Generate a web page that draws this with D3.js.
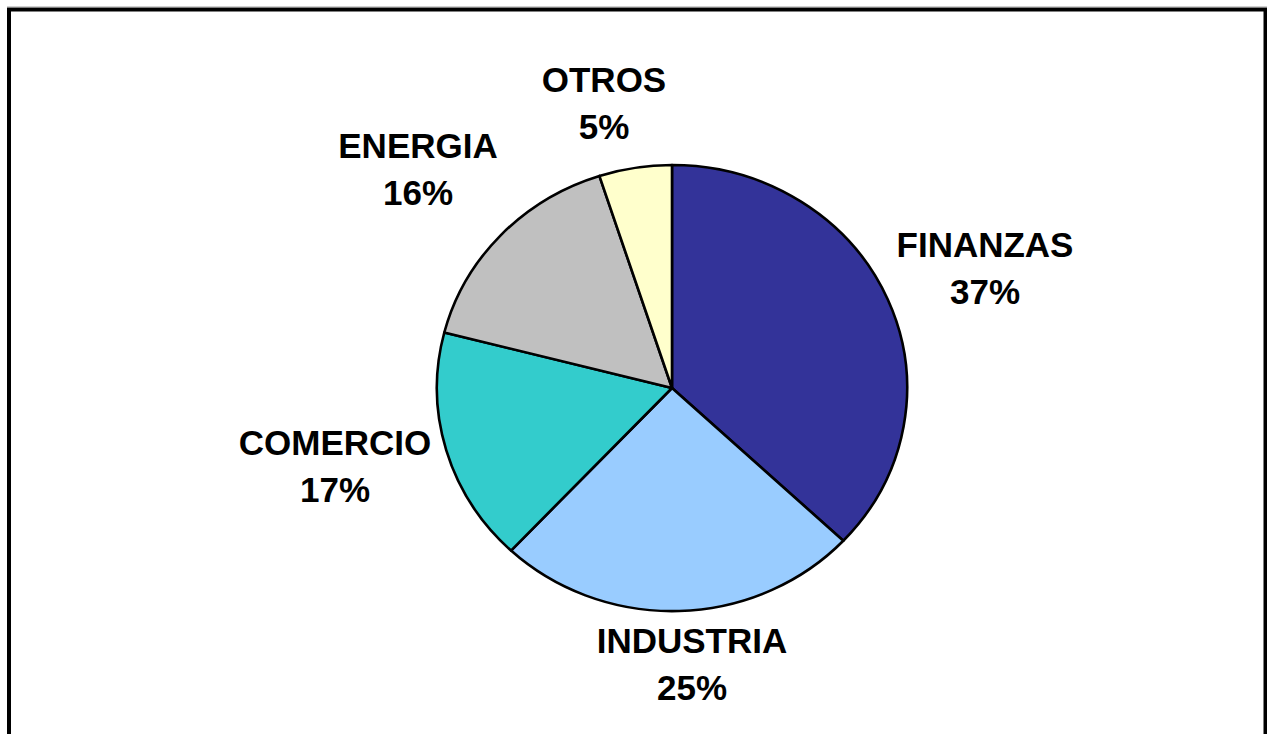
<!DOCTYPE html>
<html>
<head>
<meta charset="utf-8">
<script src="https://cdn.jsdelivr.net/npm/d3@7"></script>
<style>
  body { margin: 0; background: #fff; }
  text { font-family: "Liberation Sans", Arial, sans-serif; font-weight: bold; font-size: 35px; fill: #000; }
</style>
</head>
<body>
<script>
// sectores y porcentajes
var sectors = ["FINANZAS", "INDUSTRIA", "COMERCIO", "ENERGIA", "OTROS"];
var shares = [37, 25, 17, 16, 5];
var colors = ["#333399", "#99CCFF", "#33CCCC", "#C0C0C0", "#FFFFCC"];

var width = 1267;
var height = 734;

// pie is a bit flattened (Excel stretches it to the plot area)
var cx = 672, cy = 388, rx = 235, ry = 223;

// where Excel put each label box (centre x, first baseline)
var labelAt = {
  FINANZAS: [985, 257],
  INDUSTRIA: [692, 653],
  COMERCIO: [335, 455],
  ENERGIA: [418, 158],
  OTROS: [604, 92]
};

var svg = d3.select("body").append("svg")
    .attr("width", width)
    .attr("height", height);

// frame
svg.append("line")
    .attr("x1", 7).attr("x2", width).attr("y1", 6.5).attr("y2", 6.5)
    .attr("stroke", "#d0d0d0").attr("stroke-width", 1);
svg.append("rect")
    .attr("x", 9).attr("y", 9.5)
    .attr("width", 1256.5).attr("height", 800)
    .attr("fill", "none")
    .attr("stroke", "#000")
    .attr("stroke-width", 4);

var data = sectors.map(function(s, i) { return { name: s, value: shares[i], color: colors[i] }; });

var pie = d3.pie()
    .sort(null)
    .value(function(d) { return d.value; });

var arc = d3.arc()
    .innerRadius(0)
    .outerRadius(1);

var g = svg.append("g")
    .attr("transform", "translate(" + cx + "," + cy + ") scale(" + rx + "," + ry + ")");

g.selectAll("path")
    .data(pie(data))
    .enter()
    .append("path")
    .attr("d", arc)
    .attr("fill", function(d) { return d.data.color; })
    .attr("stroke", "#000")
    .attr("stroke-width", 2.6)
    .attr("stroke-linejoin", "round")
    .attr("vector-effect", "non-scaling-stroke");

// labels
var labels = svg.selectAll(".lbl")
    .data(data)
    .enter()
    .append("text")
    .attr("class", "lbl")
    .attr("text-anchor", "middle");

labels.append("tspan")
    .attr("x", function(d) { return labelAt[d.name][0]; })
    .attr("y", function(d) { return labelAt[d.name][1]; })
    .text(function(d) { return d.name; });

labels.append("tspan")
    .attr("x", function(d) { return labelAt[d.name][0]; })
    .attr("y", function(d) { return labelAt[d.name][1] + 47; })
    .text(function(d) { return d.value + "%"; });
</script>
</body>
</html>
